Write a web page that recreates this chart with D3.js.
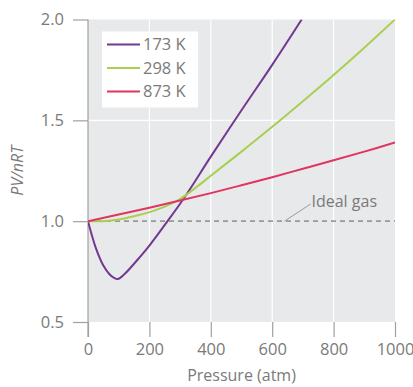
<!DOCTYPE html>
<html>
<head>
<meta charset="utf-8">
<script src="https://cdn.jsdelivr.net/npm/d3@7"></script>
<style>
  body { margin: 0; background: #fff; }
  text { font-family: "Open Sans", sans-serif; fill: #7a7a7a; }
</style>
</head>
<body>
<svg id="chart" width="413" height="387"></svg>
<script>
// DATA
const xTicks = [0, 200, 400, 600, 800, 1000];
const yTicks = [0.5, 1.0, 1.5, 2.0];

const p173 = [0, 26, 50, 70, 85, 97, 119, 162, 200, 259, 313, 400, 500, 600, 696];
const v173 = [1.0, 0.865, 0.78, 0.737, 0.719, 0.713, 0.738, 0.81, 0.879, 1.0, 1.115, 1.32, 1.55, 1.775, 2.0];

const p298 = [0, 50, 100, 150, 200, 250, 300, 350, 400, 500, 600, 700, 800, 900, 1000];
const v298 = [1.0, 1.0, 1.008, 1.024, 1.045, 1.072, 1.11, 1.165, 1.225, 1.345, 1.468, 1.595, 1.725, 1.86, 2.0];

const p873 = [0, 100, 200, 300, 400, 500, 600, 700, 800, 900, 1000];
const v873 = [1.0, 1.033, 1.067, 1.102, 1.139, 1.178, 1.218, 1.26, 1.302, 1.345, 1.39];

const seriesNames = ["173 K", "298 K", "873 K"];
const seriesColors = ["#74388f", "#a8cf4f", "#e03560"];

// CANVAS SETUP
const canvas = d3.select("#chart");
const margin = { top: 19.5, right: 18, bottom: 65, left: 88 };
const width = 413 - margin.left - margin.right,
  height = 387 - margin.top - margin.bottom;

const g = canvas.append("g").attr("transform", `translate(${margin.left},${margin.top})`);

const x = d3.scaleLinear().domain([0, 1000]).range([0, width]);
const y = d3.scaleLinear().domain([0.5, 2.0]).range([height, 0]);

// background + grid
g.append("rect")
  .attr("width", width)
  .attr("height", height)
  .attr("fill", "#e8e9eb");

g.selectAll(".vgrid")
  .data(xTicks.slice(1, -1))
  .join("line")
  .attr("x1", (d) => x(d))
  .attr("x2", (d) => x(d))
  .attr("y1", 0)
  .attr("y2", height)
  .attr("stroke", "#fff")
  .attr("stroke-width", 1.2);

g.selectAll(".hgrid")
  .data([1.5])
  .join("line")
  .attr("x1", 0)
  .attr("x2", width)
  .attr("y1", (d) => y(d))
  .attr("y2", (d) => y(d))
  .attr("stroke", "#fff")
  .attr("stroke-width", 1.2);

// axes
const xAxis = g.append("g")
  .attr("transform", `translate(0,${height})`)
  .call(d3.axisBottom(x).tickValues(xTicks).tickSize(15).tickPadding(6).tickFormat(d3.format("d")));
xAxis.select(".domain").remove();
xAxis.selectAll("line").attr("stroke", "#a0a0a0").attr("stroke-width", 1.2);
xAxis.selectAll("text").style("font-size", "16.5px").attr("fill", "#7a7a7a");

const yAxis = g.append("g")
  .call(d3.axisLeft(y).tickValues(yTicks).tickSize(15).tickPadding(9).tickFormat(d3.format(".1f")));
yAxis.select(".domain").remove();
yAxis.selectAll("line").attr("stroke", "#a0a0a0").attr("stroke-width", 1.2);
yAxis.selectAll("text").style("font-size", "16.5px").attr("fill", "#7a7a7a");

g.append("line")
  .attr("x1", 0).attr("x2", 0)
  .attr("y1", 0).attr("y2", height + 15)
  .attr("stroke", "#a0a0a0")
  .attr("stroke-width", 1.2);

// ideal gas
g.append("line")
  .attr("x1", 0).attr("x2", width)
  .attr("y1", y(1.0)).attr("y2", y(1.0))
  .attr("stroke", "#9a9a9a")
  .attr("stroke-width", 1.8)
  .attr("stroke-dasharray", "5,4");

g.append("line")
  .attr("x1", x(640)).attr("x2", x(725))
  .attr("y1", y(1.0)).attr("y2", y(1.085))
  .attr("stroke", "#9a9a9a")
  .attr("stroke-width", 1);

g.append("text")
  .attr("x", x(728))
  .attr("y", y(1.07))
  .style("font-size", "16px")
  .text("Ideal gas");

// curves
const series = [
  { p: p173, v: v173 },
  { p: p298, v: v298 },
  { p: p873, v: v873 },
];

const line = d3.line()
  .x((d) => x(d[0]))
  .y((d) => y(d[1]))
  .curve(d3.curveCatmullRom.alpha(0.5));

g.append("clipPath").attr("id", "clip")
  .append("rect").attr("width", width).attr("height", height);

g.append("g").attr("clip-path", "url(#clip)")
  .selectAll("path")
  .data(series)
  .join("path")
  .attr("d", (s) => line(d3.zip(s.p, s.v)))
  .attr("fill", "none")
  .attr("stroke", (s, i) => seriesColors[i])
  .attr("stroke-width", 2);

// legend
const lg = g.append("g").attr("transform", "translate(14,12)");
lg.append("rect")
  .attr("width", 96)
  .attr("height", 76)
  .attr("fill", "#fff");

const items = lg.selectAll(".item")
  .data(seriesNames)
  .join("g")
  .attr("transform", (d, i) => `translate(5,${13 + i * 23.5})`);

items.append("line")
  .attr("x1", 0).attr("x2", 33)
  .attr("stroke", (d, i) => seriesColors[i])
  .attr("stroke-width", 2);

items.append("text")
  .attr("x", 36)
  .attr("dy", "0.35em")
  .style("font-size", "16.5px")
  .text((d) => d);

// labels
canvas.append("text")
  .attr("x", margin.left + width / 2)
  .attr("y", 381)
  .attr("text-anchor", "middle")
  .style("font-size", "16px")
  .text("Pressure (atm)");

canvas.append("text")
  .attr("transform", `translate(23,${margin.top + y(1.25)}) rotate(-90)`)
  .attr("text-anchor", "middle")
  .style("font-size", "16px")
  .style("font-style", "italic")
  .text("PV/nRT");
</script>
</body>
</html>
